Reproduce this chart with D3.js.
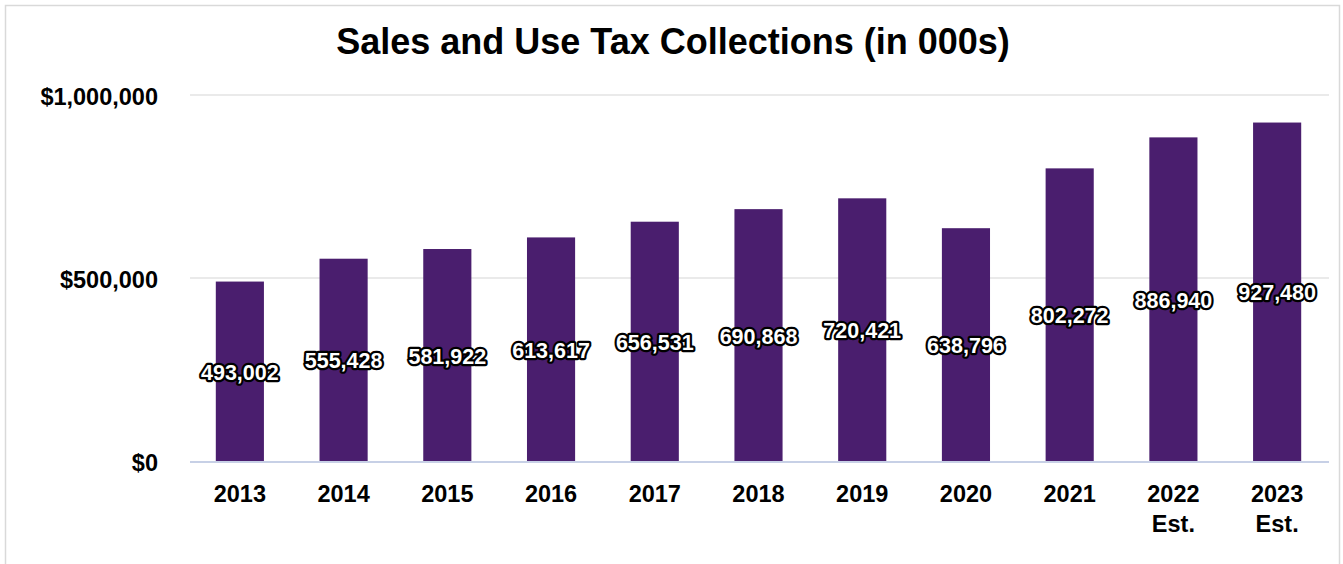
<!DOCTYPE html>
<html>
<head>
<meta charset="utf-8">
<script src="https://cdn.jsdelivr.net/npm/d3@7"></script>
<style>
  html, body { margin: 0; padding: 0; background: #fff; }
  svg { display: block; font-family: "Liberation Sans", Arial, sans-serif; }
</style>
</head>
<body>
<svg id="chart" width="1343" height="564"></svg>
<script>
// Fiscal years and sales & use tax collections, in thousands of dollars
const years = ["2013", "2014", "2015", "2016", "2017", "2018", "2019", "2020", "2021", "2022\nEst.", "2023\nEst."];
const collections = [493002, 555428, 581922, 613617, 656531, 690868, 720421, 638796, 802272, 886940, 927480];
const yTicks = [0, 500000, 1000000];
const titleText = "Sales and Use Tax Collections (in 000s)";

const data = years.map((y, i) => ({ year: y, value: collections[i] }));

const svg = d3.select("#chart");

// chart frame
svg.append("rect")
  .attr("x", 5.5).attr("y", 5.5)
  .attr("width", 1334).attr("height", 600)
  .attr("fill", "#fff")
  .attr("stroke", "#d9d9d9").attr("stroke-width", 1.5);

const plot = { left: 188, right: 1329, top: 96, bottom: 462 };

const x = d3.scaleBand()
  .domain(years)
  .range([plot.left, plot.right])
  .paddingInner(0.536)
  .paddingOuter(0.268);

const y = d3.scaleLinear()
  .domain([0, 1000000])
  .range([plot.bottom, plot.top]);

// horizontal gridlines
svg.append("g")
  .selectAll("line")
  .data(yTicks.filter(t => t > 0))
  .join("line")
  .attr("x1", 190).attr("x2", plot.right)
  .attr("y1", d => y(d) - 1).attr("y2", d => y(d) - 1)
  .attr("stroke", "#e3e3e3").attr("stroke-width", 1.5);

// y-axis tick labels
const fmtDollar = d3.format("$,");
svg.append("g")
  .selectAll("text")
  .data(yTicks)
  .join("text")
  .attr("x", 158)
  .attr("y", d => y(d) + 9)
  .attr("text-anchor", "end")
  .attr("font-size", 23.5)
  .attr("font-weight", "bold")
  .attr("fill", "#000")
  .text(d => fmtDollar(d));

// bars
svg.append("g")
  .selectAll("rect")
  .data(data)
  .join("rect")
  .attr("x", d => x(d.year))
  .attr("width", x.bandwidth())
  .attr("y", d => y(d.value))
  .attr("height", d => y(0) - y(d.value))
  .attr("fill", "#4a1e6e");

// baseline axis line
svg.append("line")
  .attr("x1", 190).attr("x2", plot.right)
  .attr("y1", y(0)).attr("y2", y(0))
  .attr("stroke", "#c7d0e6").attr("stroke-width", 2);

// value labels, centred in each bar
const fmtNum = d3.format(",");
svg.append("g")
  .selectAll("text")
  .data(data)
  .join("text")
  .attr("x", d => x(d.year) + x.bandwidth() / 2)
  .attr("y", d => (y(d.value) + y(0)) / 2 + 8)
  .attr("text-anchor", "middle")
  .attr("font-size", 21.5)
  .attr("font-weight", "bold")
  .attr("fill", "#fff")
  .attr("stroke", "#000")
  .attr("stroke-width", 4.5)
  .attr("stroke-linejoin", "round")
  .attr("paint-order", "stroke")
  .text(d => fmtNum(d.value));

// category labels (multi-line for estimates)
const xl = svg.append("g")
  .selectAll("text")
  .data(years)
  .join("text")
  .attr("x", d => x(d) + x.bandwidth() / 2)
  .attr("y", 502)
  .attr("text-anchor", "middle")
  .attr("font-size", 23.5)
  .attr("font-weight", "bold")
  .attr("fill", "#000");
xl.selectAll("tspan")
  .data(d => d.split("\n"))
  .join("tspan")
  .attr("x", function() { return d3.select(this.parentNode).attr("x"); })
  .attr("dy", (d, i) => i === 0 ? 0 : 30)
  .text(d => d);

// title
svg.append("text")
  .attr("x", 673).attr("y", 54)
  .attr("text-anchor", "middle")
  .attr("font-size", 36)
  .attr("font-weight", "bold")
  .attr("fill", "#000")
  .text(titleText);
</script>
</body>
</html>
